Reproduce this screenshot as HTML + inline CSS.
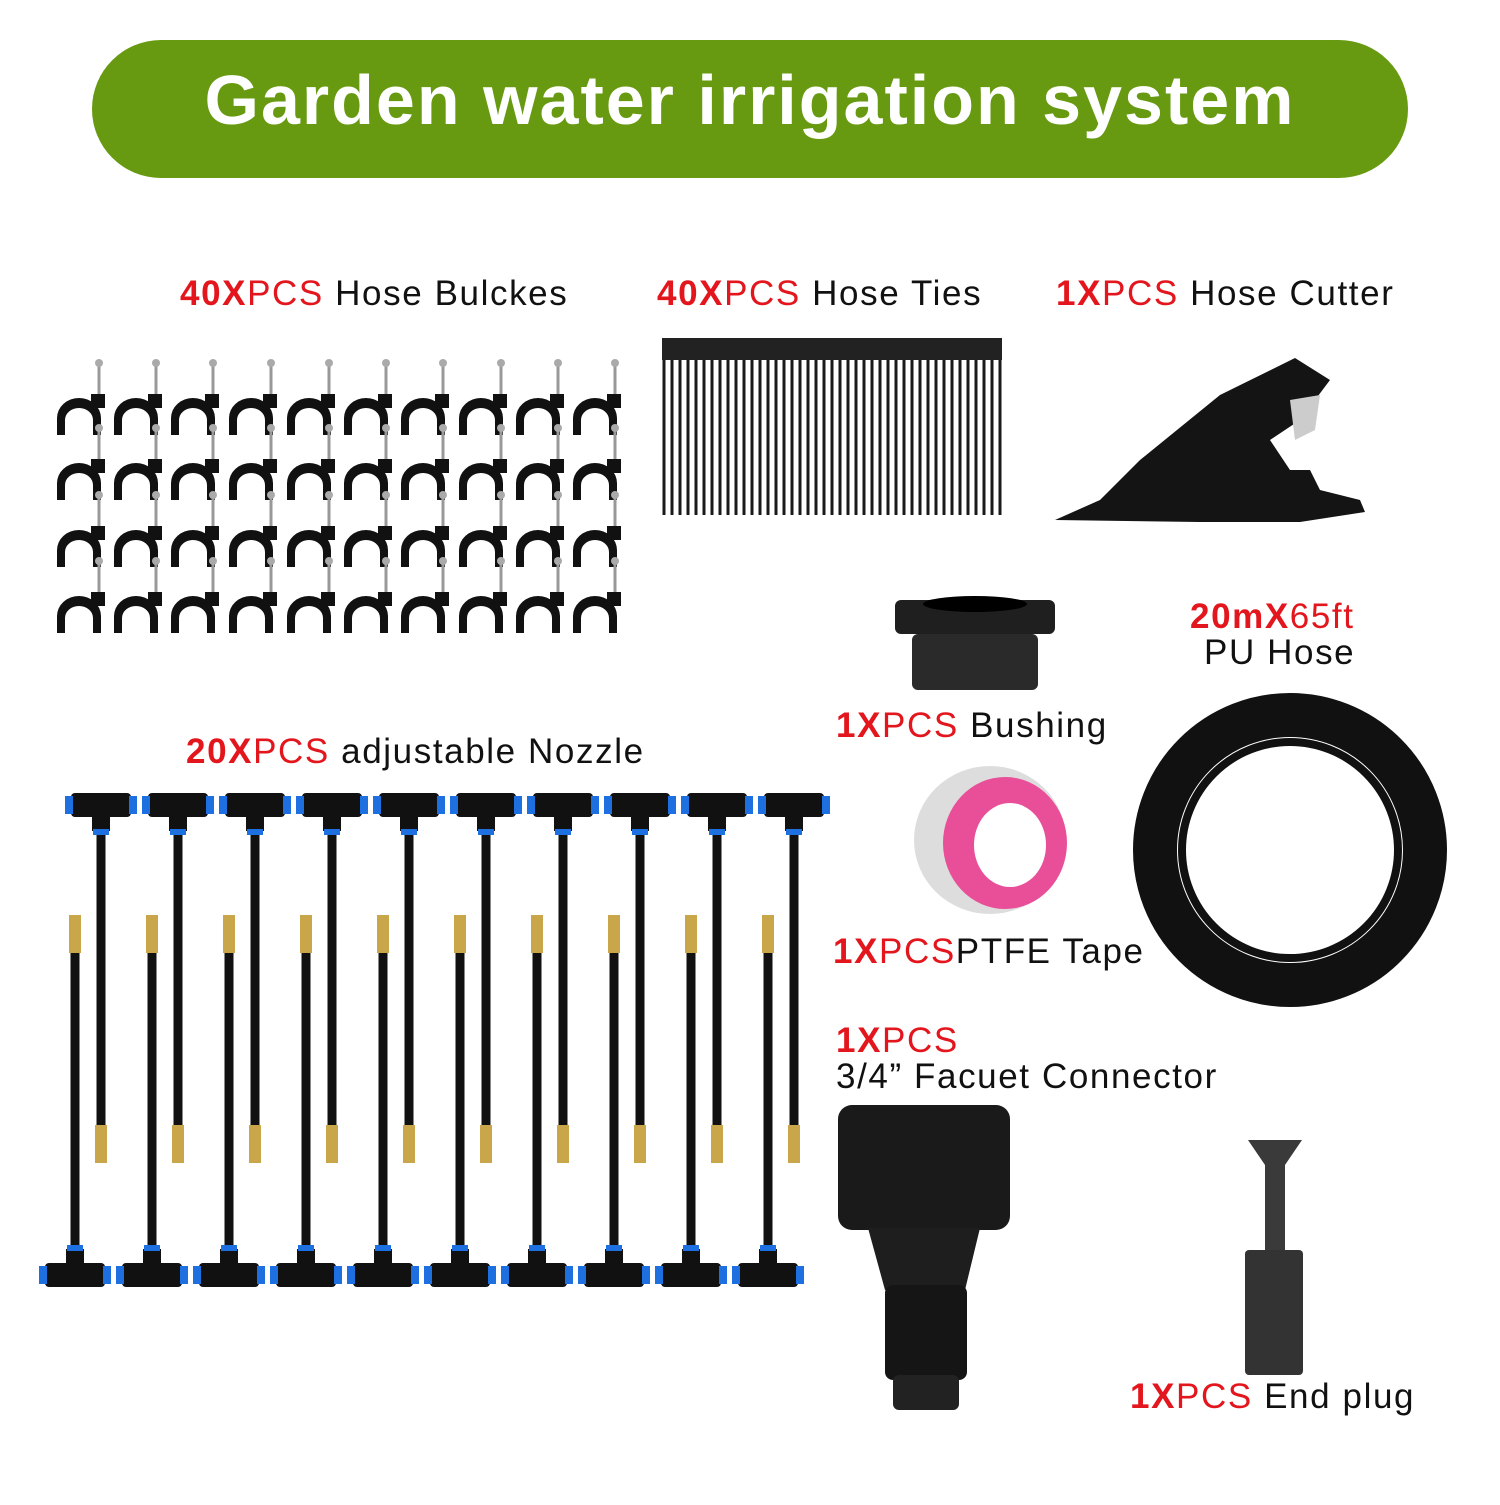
<!DOCTYPE html>
<html><head><meta charset="utf-8"><style>
body{margin:0;background:#fff;width:1500px;height:1500px;overflow:hidden;font-family:"Liberation Sans",sans-serif}
</style></head><body>
<svg width="1500" height="1500" viewBox="0 0 1500 1500" xmlns="http://www.w3.org/2000/svg" font-family="Liberation Sans, sans-serif">
<rect x="92" y="40" width="1316" height="138" rx="69" fill="#679a10"/>
<text x="750" y="124" text-anchor="middle" font-size="70" font-weight="bold" fill="#fff" letter-spacing="2">Garden water irrigation system</text>

<g font-size="35" fill="#111" letter-spacing="1.6">
<text x="180" y="305"><tspan fill="#e3161d" font-weight="bold">40X</tspan><tspan fill="#e3161d">PCS</tspan> Hose Bulckes</text>
<text x="657" y="305"><tspan fill="#e3161d" font-weight="bold">40X</tspan><tspan fill="#e3161d">PCS</tspan> Hose Ties</text>
<text x="1056" y="305"><tspan fill="#e3161d" font-weight="bold">1X</tspan><tspan fill="#e3161d">PCS</tspan> Hose Cutter</text>
<text x="186" y="763"><tspan fill="#e3161d" font-weight="bold">20X</tspan><tspan fill="#e3161d">PCS</tspan> adjustable Nozzle</text>
<text x="1190" y="628" fill="#e3161d"><tspan font-weight="bold">20mX</tspan>65ft</text>
<text x="1204" y="664">PU Hose</text>
<text x="836" y="737"><tspan fill="#e3161d" font-weight="bold">1X</tspan><tspan fill="#e3161d">PCS</tspan>  Bushing</text>
<text x="833" y="963"><tspan fill="#e3161d" font-weight="bold">1X</tspan><tspan fill="#e3161d">PCS</tspan>PTFE Tape</text>
<text x="836" y="1052" fill="#e3161d"><tspan font-weight="bold">1X</tspan>PCS</text>
<text x="836" y="1088">3/4”  Facuet Connector</text>
<text x="1130" y="1408"><tspan fill="#e3161d" font-weight="bold">1X</tspan><tspan fill="#e3161d">PCS</tspan> End plug</text>
</g>

<defs>
<g id="clip">
<line x1="44" y1="-36" x2="44" y2="-6" stroke="#999" stroke-width="3"/>
<circle cx="44" cy="-37" r="4" fill="#aaa"/>
<path d="M2 35 V18 A22 20 0 0 1 46 18 V35 H38 V20 A14 12 0 0 0 10 20 V35 Z" fill="#111"/>
<rect x="36" y="-6" width="14" height="14" fill="#111"/>
</g>
<g id="ttop">
<rect x="-30" y="-12" width="60" height="24" rx="4" fill="#111"/>
<rect x="-36" y="-9" width="8" height="18" fill="#1e6fe0"/>
<rect x="28" y="-9" width="8" height="18" fill="#1e6fe0"/>
<rect x="-9" y="10" width="18" height="16" fill="#111"/>
<rect x="-8" y="24" width="16" height="6" fill="#1e6fe0"/>
</g>
<g id="tbot">
<rect x="-30" y="-12" width="60" height="24" rx="4" fill="#111"/>
<rect x="-36" y="-9" width="8" height="18" fill="#1e6fe0"/>
<rect x="28" y="-9" width="8" height="18" fill="#1e6fe0"/>
<rect x="-9" y="-26" width="18" height="16" fill="#111"/>
<rect x="-8" y="-30" width="16" height="6" fill="#1e6fe0"/>
</g>
</defs>
<g>
<use href="#clip" x="55" y="400"/><use href="#clip" x="112" y="400"/><use href="#clip" x="169" y="400"/><use href="#clip" x="227" y="400"/><use href="#clip" x="285" y="400"/><use href="#clip" x="342" y="400"/><use href="#clip" x="399" y="400"/><use href="#clip" x="457" y="400"/><use href="#clip" x="514" y="400"/><use href="#clip" x="571" y="400"/>
<use href="#clip" x="55" y="465"/><use href="#clip" x="112" y="465"/><use href="#clip" x="169" y="465"/><use href="#clip" x="227" y="465"/><use href="#clip" x="285" y="465"/><use href="#clip" x="342" y="465"/><use href="#clip" x="399" y="465"/><use href="#clip" x="457" y="465"/><use href="#clip" x="514" y="465"/><use href="#clip" x="571" y="465"/>
<use href="#clip" x="55" y="532"/><use href="#clip" x="112" y="532"/><use href="#clip" x="169" y="532"/><use href="#clip" x="227" y="532"/><use href="#clip" x="285" y="532"/><use href="#clip" x="342" y="532"/><use href="#clip" x="399" y="532"/><use href="#clip" x="457" y="532"/><use href="#clip" x="514" y="532"/><use href="#clip" x="571" y="532"/>
<use href="#clip" x="55" y="598"/><use href="#clip" x="112" y="598"/><use href="#clip" x="169" y="598"/><use href="#clip" x="227" y="598"/><use href="#clip" x="285" y="598"/><use href="#clip" x="342" y="598"/><use href="#clip" x="399" y="598"/><use href="#clip" x="457" y="598"/><use href="#clip" x="514" y="598"/><use href="#clip" x="571" y="598"/>
</g>

<g stroke="#1a1a1a" stroke-width="3">
<path d="M664 340V515M672 340V515M680 340V515M688 340V515M696 340V515M704 340V515M712 340V515M720 340V515M728 340V515M736 340V515M744 340V515M752 340V515M760 340V515M768 340V515M776 340V515M784 340V515M792 340V515M800 340V515M808 340V515M816 340V515M824 340V515M832 340V515M840 340V515M848 340V515M856 340V515M864 340V515M872 340V515M880 340V515M888 340V515M896 340V515M904 340V515M912 340V515M920 340V515M928 340V515M936 340V515M944 340V515M952 340V515M960 340V515M968 340V515M976 340V515M984 340V515M992 340V515M1000 340V515"/>
</g>
<rect x="662" y="338" width="340" height="22" fill="#222"/>

<path d="M1055 520 L1100 500 L1140 460 L1220 395 L1295 358 L1330 380 L1300 420 L1270 440 L1290 470 L1310 470 L1320 490 L1360 500 L1365 512 L1300 522 L1200 522 Z" fill="#141414"/>
<path d="M1290 400 L1320 395 L1315 430 L1295 440 Z" fill="#ccc"/>

<g>
<g stroke="#111" stroke-width="9">
<path d="M101 835V1135M178 835V1135M255 835V1135M332 835V1135M409 835V1135M486 835V1135M563 835V1135M640 835V1135M717 835V1135M794 835V1135"/>
<path d="M75 950V1245M152 950V1245M229 950V1245M306 950V1245M383 950V1245M460 950V1245M537 950V1245M614 950V1245M691 950V1245M768 950V1245"/>
</g>
<g fill="#c9a64a">
<rect x="95" y="1125" width="12" height="38"/><rect x="172" y="1125" width="12" height="38"/><rect x="249" y="1125" width="12" height="38"/><rect x="326" y="1125" width="12" height="38"/><rect x="403" y="1125" width="12" height="38"/><rect x="480" y="1125" width="12" height="38"/><rect x="557" y="1125" width="12" height="38"/><rect x="634" y="1125" width="12" height="38"/><rect x="711" y="1125" width="12" height="38"/><rect x="788" y="1125" width="12" height="38"/>
<rect x="69" y="915" width="12" height="38"/><rect x="146" y="915" width="12" height="38"/><rect x="223" y="915" width="12" height="38"/><rect x="300" y="915" width="12" height="38"/><rect x="377" y="915" width="12" height="38"/><rect x="454" y="915" width="12" height="38"/><rect x="531" y="915" width="12" height="38"/><rect x="608" y="915" width="12" height="38"/><rect x="685" y="915" width="12" height="38"/><rect x="762" y="915" width="12" height="38"/>
</g>
<use href="#ttop" x="101" y="805"/><use href="#ttop" x="178" y="805"/><use href="#ttop" x="255" y="805"/><use href="#ttop" x="332" y="805"/><use href="#ttop" x="409" y="805"/><use href="#ttop" x="486" y="805"/><use href="#ttop" x="563" y="805"/><use href="#ttop" x="640" y="805"/><use href="#ttop" x="717" y="805"/><use href="#ttop" x="794" y="805"/>
<use href="#tbot" x="75" y="1275"/><use href="#tbot" x="152" y="1275"/><use href="#tbot" x="229" y="1275"/><use href="#tbot" x="306" y="1275"/><use href="#tbot" x="383" y="1275"/><use href="#tbot" x="460" y="1275"/><use href="#tbot" x="537" y="1275"/><use href="#tbot" x="614" y="1275"/><use href="#tbot" x="691" y="1275"/><use href="#tbot" x="768" y="1275"/>
</g>

<ellipse cx="975" cy="612" rx="80" ry="14" fill="#222"/>
<rect x="895" y="600" width="160" height="34" rx="6" fill="#1f1f1f"/>
<rect x="912" y="634" width="126" height="56" rx="6" fill="#2a2a2a"/>
<ellipse cx="975" cy="604" rx="52" ry="8" fill="#000"/>

<ellipse cx="990" cy="840" rx="76" ry="74" fill="#ddd"/>
<ellipse cx="1005" cy="843" rx="62" ry="66" fill="#e94e98"/>
<ellipse cx="1010" cy="845" rx="36" ry="42" fill="#fff"/>

<g fill="none" stroke="#111">
<circle cx="1290" cy="850" r="135" stroke-width="44"/>
<circle cx="1290" cy="850" r="108" stroke-width="8"/>
</g>

<rect x="838" y="1105" width="172" height="125" rx="14" fill="#1a1a1a"/>
<path d="M868 1228 L980 1228 L965 1290 L885 1290 Z" fill="#1e1e1e"/>
<rect x="885" y="1285" width="82" height="95" rx="8" fill="#151515"/>
<rect x="893" y="1375" width="66" height="35" rx="6" fill="#222"/>

<path d="M1248 1140 H1302 L1285 1165 V1255 H1265 V1165 Z" fill="#3a3a3a"/>
<rect x="1245" y="1250" width="58" height="125" rx="4" fill="#333"/>
</svg>
</body></html>
